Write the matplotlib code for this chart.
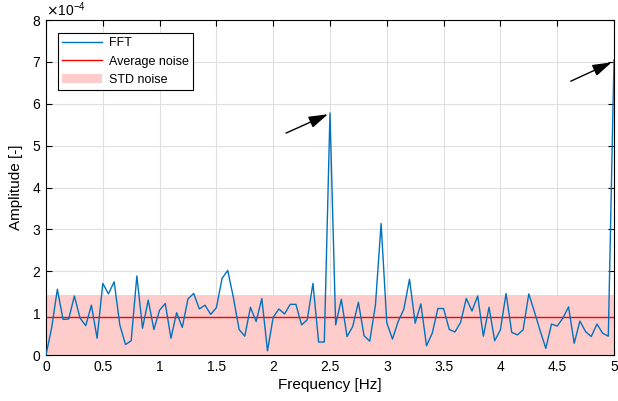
import numpy as np
import matplotlib
matplotlib.use('Agg')
import matplotlib.pyplot as plt
from matplotlib.ticker import ScalarFormatter, FormatStrFormatter
from matplotlib.patches import Patch
from matplotlib.lines import Line2D

plt.rcParams['font.family'] = ['Liberation Sans', 'DejaVu Sans']

# frequency axis, 0.05 Hz step
freq = np.arange(101) * 0.05

# FFT amplitude in units of 1e-4
fft_amp = [0.00, 0.65, 1.57, 0.85, 0.86, 1.41, 0.88, 0.70, 1.19, 0.40,
           1.71, 1.46, 1.75, 0.72, 0.25, 0.34, 1.89, 0.64, 1.31, 0.61,
           1.07, 1.23, 0.40, 1.01, 0.66, 1.34, 1.47, 1.10, 1.19, 0.97,
           1.13, 1.83, 2.02, 1.37, 0.61, 0.45, 1.14, 0.80, 1.35, 0.10,
           0.90, 1.10, 0.98, 1.21, 1.21, 0.72, 0.84, 1.71, 0.31, 0.31,
           5.78, 0.72, 1.33, 0.44, 0.68, 1.26, 0.46, 0.33, 1.19, 3.14,
           0.77, 0.38, 0.80, 1.09, 1.81, 0.76, 1.22, 0.22, 0.52, 1.11,
           1.11, 0.61, 0.55, 0.78, 1.35, 1.05, 1.41, 0.45, 1.14, 0.34,
           0.60, 1.47, 0.54, 0.48, 0.60, 1.46, 1.03, 0.58, 0.16, 0.74,
           0.69, 0.88, 1.15, 0.28, 0.81, 0.56, 0.44, 0.74, 0.52, 0.45,
           7.05]

avg_noise = 0.91
std_low = 0.0
std_high = 1.43

scale = 1e-4
y = np.array(fft_amp) * scale

fig = plt.figure(figsize=(6.18, 4.01), dpi=100)
ax = fig.add_axes([0.0744, 0.1147, 0.9191, 0.8353])

ax.fill_between([freq[0], freq[-1]], std_low * scale, std_high * scale,
                color='#ffcccc', linewidth=0, zorder=1)
ax.plot(freq, y, color='#0072BD', linewidth=1.0, zorder=3)
ax.axhline(avg_noise * scale, color='red', linewidth=1.0, zorder=2)

arrow = dict(arrowstyle='-|>,head_length=0.65,head_width=0.2',
             color='black', lw=1.0, mutation_scale=18, shrinkA=0, shrinkB=0)
ax.annotate('', xy=(2.482, 5.75e-4), xytext=(2.113, 5.30e-4), arrowprops=arrow)
ax.annotate('', xy=(4.98, 6.99e-4), xytext=(4.62, 6.54e-4), arrowprops=arrow)

ax.set_xlim(0, 5)
ax.set_ylim(0, 8e-4)
ax.set_xticks(np.arange(0, 5.01, 0.5))
ax.xaxis.set_major_formatter(FormatStrFormatter('%g'))
ax.set_yticks(np.arange(0, 8.01, 1) * scale)
fmt = ScalarFormatter(useMathText=True)
fmt.set_powerlimits((-3, 3))
ax.yaxis.set_major_formatter(fmt)
ax.yaxis.get_offset_text().set_fontsize(10)

ax.grid(True, color='#dfdfdf', linewidth=0.8, zorder=0)
ax.set_axisbelow(True)
ax.tick_params(direction='in', top=True, right=True, labelsize=10, length=4, width=0.8)
for s in ax.spines.values():
    s.set_color('black')
    s.set_linewidth(0.8)

ax.set_xlabel('Frequency [Hz]', fontsize=11, labelpad=3)
ax.set_ylabel('Amplitude [-]', fontsize=11, labelpad=6)

handles = [Line2D([], [], color='#0072BD', linewidth=1.0),
           Line2D([], [], color='red', linewidth=1.0),
           Patch(facecolor='#ffcccc', edgecolor='none')]
leg = ax.legend(handles, ['FFT', 'Average noise', 'STD noise'], loc='upper left',
                bbox_to_anchor=(0.021, 0.961), borderaxespad=0, fontsize=9,
                fancybox=False, edgecolor='black', framealpha=1,
                handlelength=3.2, borderpad=0.35, labelspacing=0.5,
                handletextpad=0.5)
leg.get_frame().set_linewidth(0.8)

fig.savefig('out.png', dpi=100)
